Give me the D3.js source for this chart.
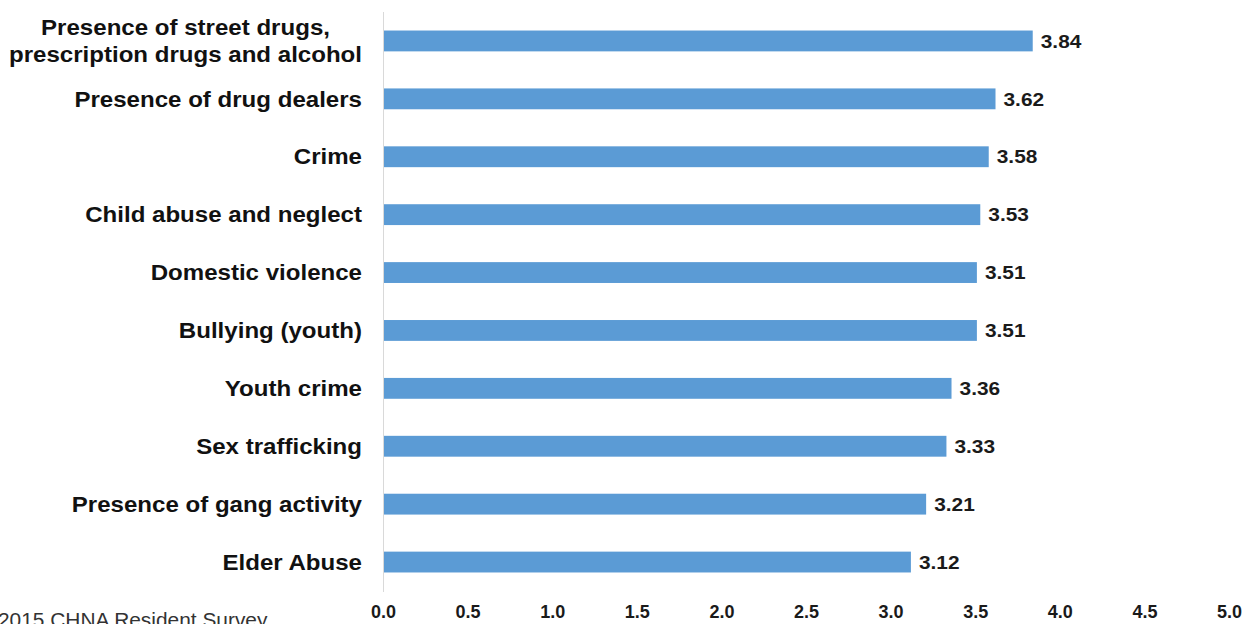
<!DOCTYPE html>
<html>
<head>
<meta charset="utf-8">
<script src="https://cdn.jsdelivr.net/npm/d3@7"></script>
<style>
  html, body { margin:0; padding:0; background:#fff; overflow:hidden; }
  svg { display:block; }
</style>
</head>
<body>
<div id="chart"></div>
<script>
// community safety issues -- mean rating, horizontal bars

const categories = [
  ["Presence of street drugs,", "prescription drugs and alcohol"],
  ["Presence of drug dealers"],
  ["Crime"],
  ["Child abuse and neglect"],
  ["Domestic violence"],
  ["Bullying (youth)"],
  ["Youth crime"],
  ["Sex trafficking"],
  ["Presence of gang activity"],
  ["Elder Abuse"],
];
const values = [3.84, 3.62, 3.58, 3.53, 3.51, 3.51, 3.36, 3.33, 3.21, 3.12];
const tickValues = [0, 0.5, 1, 1.5, 2, 2.5, 3, 3.5, 4, 4.5, 5];
const sourceNote = "2015 CHNA Resident Survey";

const W = 1256, H = 624;
const FONT = "'Liberation Sans', Arial, sans-serif";
// the original text is a little wider than plain Arial, stretch it sideways
const SX_LABEL = 1.12, SX_VAL = 1.13, SX_NOTE = 1.02;

const svg = d3.select("#chart").append("svg")
  .attr("width", W).attr("height", H);

const data = categories.map((c, i) => ({ key: i, lines: c, value: values[i] }));

const x = d3.scaleLinear().domain([0, 5]).range([383, 1229]);
const y = d3.scaleBand().domain(data.map(d => d.key)).range([12, 591]).paddingInner(0.64).paddingOuter(0.32);

// bars
svg.append("g").selectAll("rect").data(data).join("rect")
  .attr("x", x(0)).attr("y", d => y(d.key))
  .attr("width", d => x(d.value) - x(0)).attr("height", y.bandwidth())
  .attr("fill", "#5b9bd5");

// category axis line
svg.append("line")
  .attr("x1", x(0) + 0.5).attr("x2", x(0) + 0.5).attr("y1", 12).attr("y2", 592)
  .attr("stroke", "#d9d9d9").attr("stroke-width", 1);

// value labels
svg.append("g").selectAll("g").data(data).join("g")
  .attr("transform", d => `translate(${x(d.value) + 8},${y(d.key) + y.bandwidth() / 2}) scale(${SX_VAL},1)`)
  .append("text")
  .attr("dy", "0.36em")
  .attr("fill", "#1a1a1a")
  .style("font-family", FONT).style("font-size", "18.5px").style("font-weight", "bold")
  .text(d => d.value.toFixed(2));

// category labels (multi-line blocks right aligned, lines centred within block)
const labelRight = 362, lineH = 27;
const labG = svg.append("g");
data.forEach(d => {
  const cy = y(d.key) + y.bandwidth() / 2;
  const gg = labG.append("g").attr("transform", `translate(${labelRight},${cy}) scale(${SX_LABEL},1)`);
  const t = gg.append("text")
    .attr("fill", "#111")
    .style("font-family", FONT).style("font-size", "21.5px").style("font-weight", "bold");
  const n = d.lines.length;
  d.lines.forEach((ln, j) => {
    t.append("tspan").attr("y", (j - (n - 1) / 2) * lineH).attr("dy", "0.36em").text(ln);
  });
  if (n === 1) {
    t.attr("text-anchor", "end").selectAll("tspan").attr("x", 0);
  } else {
    let maxW = 0;
    t.selectAll("tspan").each(function () { maxW = Math.max(maxW, this.getComputedTextLength()); });
    t.attr("text-anchor", "middle").selectAll("tspan").attr("x", -maxW / 2);
  }
});

// value axis (no line, no ticks)
svg.append("g").attr("transform", "translate(0,612)")
  .call(d3.axisBottom(x).tickValues(tickValues).tickFormat(d3.format(".1f")).tickSize(0).tickPadding(0))
  .call(a => a.select(".domain").remove())
  .call(a => a.selectAll("text")
    .attr("dy", "0.36em").attr("fill", "#1a1a1a")
    .style("font-family", FONT).style("font-size", "18px").style("font-weight", "bold"));

// source note, cut by the bottom edge as in the original
svg.append("g").attr("transform", `translate(-2,627) scale(${SX_NOTE},1)`)
  .append("text")
  .attr("fill", "#333")
  .style("font-family", FONT).style("font-size", "20.5px")
  .text(sourceNote);
</script>
</body>
</html>
